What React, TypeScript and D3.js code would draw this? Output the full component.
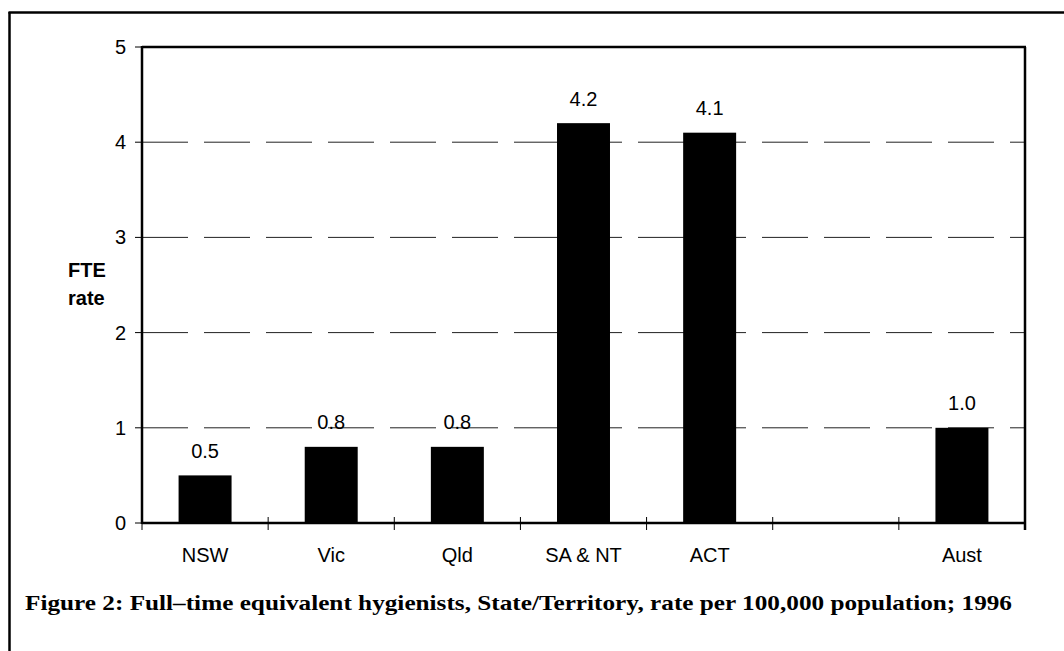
import React from 'react';
import * as d3 from 'd3';

const categories = ['NSW', 'Vic', 'Qld', 'SA & NT', 'ACT', '', 'Aust'];
const rates = [0.5, 0.8, 0.8, 4.2, 4.1, null, 1.0];
const valueLabels = ['0.5', '0.8', '0.8', '4.2', '4.1', '', '1.0'];
const yTicks = [0, 1, 2, 3, 4, 5];
const caption = 'Figure 2: Full\u2013time equivalent hygienists, State/Territory, rate per 100,000 population; 1996';

const W = 1064;
const H = 651;
const left = 142;
const right = 1025;
const top = 47;
const bottom = 523;
const sans = 'Arial, "Liberation Sans", sans-serif';

function App() {
  const x = d3.scaleBand<number>()
    .domain(d3.range(categories.length))
    .range([left, right])
    .paddingInner(0.58)
    .paddingOuter(0.29);
  const slot = d3.scaleBand<number>()
    .domain(d3.range(categories.length))
    .range([left, right]);
  const y = d3.scaleLinear().domain([0, 5]).range([bottom, top]);

  return (
    <svg width={W} height={H} style={{ position: 'absolute', left: 0, top: 0, background: '#fff' }}>
      <rect x={0} y={0} width={W} height={H} fill="#fff" />
      {/* outer frame, left and top visible */}
      <line x1={9.5} x2={9.5} y1={12} y2={H} stroke="#000" strokeWidth={2.5} />
      <line x1={8.5} x2={W} y1={12.5} y2={12.5} stroke="#000" strokeWidth={2.5} />

      {/* gridlines */}
      {yTicks.filter(t => t > 0 && t < 5).map(t => (
        <line key={'g' + t} x1={left} x2={right} y1={y(t)} y2={y(t)}
          stroke="#222" strokeWidth={1} strokeDasharray="46 16" />
      ))}

      {/* bars */}
      {rates.map((v, i) => v == null ? null : (
        <rect key={'b' + i} x={x(i)} y={y(v)} width={x.bandwidth()} height={bottom - y(v)} fill="#000" />
      ))}

      {/* value labels */}
      {rates.map((v, i) => v == null ? null : (
        <text key={'v' + i} x={(x(i) as number) + x.bandwidth() / 2} y={y(v) - 17.5}
          textAnchor="middle" fontFamily={sans} fontSize={20} fill="#000">{valueLabels[i]}</text>
      ))}

      {/* plot frame */}
      <line x1={left} x2={right + 1} y1={top} y2={top} stroke="#000" strokeWidth={2.5} />
      <line x1={right} x2={right} y1={top} y2={bottom + 7} stroke="#000" strokeWidth={2.5} />
      <line x1={left} x2={left} y1={top - 1} y2={bottom + 1} stroke="#000" strokeWidth={2.5} />
      <line x1={left} x2={right} y1={bottom} y2={bottom} stroke="#000" strokeWidth={2.5} />

      {/* y ticks */}
      {yTicks.map(t => (
        <g key={'t' + t}>
          <line x1={left - 7} x2={left} y1={y(t)} y2={y(t)} stroke="#000" strokeWidth={1} />
          <text x={126} y={y(t) + 7} textAnchor="end" fontFamily={sans} fontSize={20} fill="#000">{t}</text>
        </g>
      ))}

      {/* x ticks */}
      {d3.range(categories.length + 1).map(i => {
        const px = i < categories.length ? (slot(i) as number) : right;
        return <line key={'x' + i} x1={px} x2={px} y1={bottom - 6} y2={bottom + 7} stroke="#000" strokeWidth={1} />;
      })}

      {/* x labels */}
      {categories.map((c, i) => (
        <text key={'c' + i} x={(slot(i) as number) + slot.bandwidth() / 2} y={562}
          textAnchor="middle" fontFamily={sans} fontSize={20} fill="#000">{c}</text>
      ))}

      {/* y title */}
      <text x={68} y={277} fontFamily={sans} fontSize={20} fontWeight="bold" fill="#000">FTE</text>
      <text x={68} y={305} fontFamily={sans} fontSize={20} fontWeight="bold" fill="#000">rate</text>

      {/* caption */}
      <text x={25} y={610} fontFamily='"Liberation Serif", "Times New Roman", serif' fontSize={21} fontWeight="bold" fill="#000"
        textLength={987} lengthAdjust="spacingAndGlyphs">{caption}</text>
    </svg>
  );
}

export default App;
